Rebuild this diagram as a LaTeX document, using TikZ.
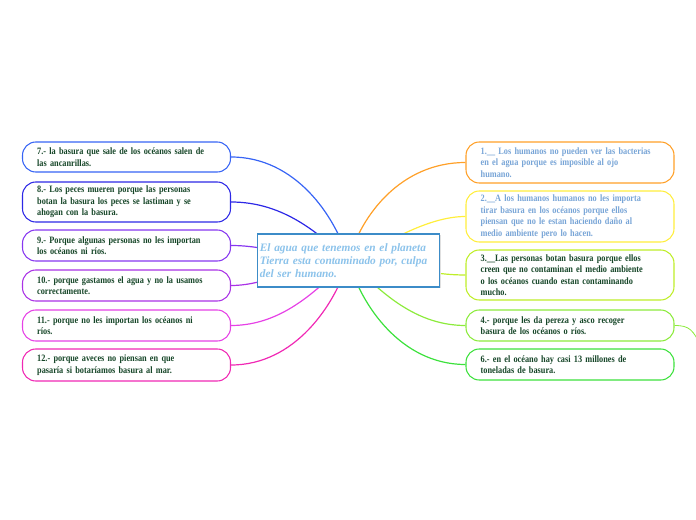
\documentclass[tikz,border=0pt]{standalone}
\usepackage{fontspec}
\setmainfont{Liberation Serif}
\newfontfamily\leaffont{Liberation Serif}[FakeStretch=0.85]
\usetikzlibrary{backgrounds,shadows}

\definecolor{cSeven}{RGB}{55,100,245}
\definecolor{cEight}{RGB}{45,40,230}
\definecolor{cNine}{RGB}{135,55,240}
\definecolor{cTen}{RGB}{170,50,230}
\definecolor{cEleven}{RGB}{230,65,230}
\definecolor{cTwelve}{RGB}{240,40,180}
\definecolor{cOne}{RGB}{255,160,40}
\definecolor{cTwo}{RGB}{255,238,60}
\definecolor{cThree}{RGB}{190,238,40}
\definecolor{cFour}{RGB}{140,235,60}
\definecolor{cSix}{RGB}{60,225,60}
\definecolor{hubline}{RGB}{60,140,200}
\definecolor{hubtext}{RGB}{140,195,235}
\definecolor{leaftext}{RGB}{22,70,40}
\definecolor{paletext}{RGB}{120,165,215}

\begin{document}
\begin{tikzpicture}[x=0.75pt,y=0.75pt,yscale=-1,xscale=1,
  leafbox/.style={draw=#1, line width=0.8pt, rounded corners=10pt, fill=white,
    text width=134pt, inner xsep=11pt, inner ysep=2pt, align=left,
    font=\leaffont\fontsize{7.3}{8.6}\selectfont\bfseries, text=leaftext},
  hubbox/.style={draw=hubline, line width=0.8pt, fill=white,
    general shadow={shadow xshift=0.8pt, shadow yshift=-0.8pt, fill=black!12},
    text width=133pt, inner xsep=2pt, align=left, minimum height=39.75pt,
    font=\fontsize{8.5}{9.8}\selectfont\bfseries\itshape, text=hubtext},
  link/.style={draw=#1, line width=0.9pt}]
\useasboundingbox (0,0) rectangle (696,520);

% central topic
\node [hubbox] (hub) at (348.5,260.5) {El agua que tenemos en el planeta\\Tierra esta contaminado por, culpa\\del ser humano.};

% left branches
\node [leafbox=cSeven, minimum height=22.5pt] (b7) at (126.5,157) {7.- la basura que sale de los océanos salen de\\las ancanrillas.};
\node [leafbox=cEight, minimum height=30pt] (b8) at (126.5,202) {8.- Los peces mueren porque las personas\\botan la basura los peces se lastiman y se\\ahogan con la basura.};
\node [leafbox=cNine, minimum height=23.25pt] (b9) at (126.5,245.5) {9.- Porque algunas personas no les importan\\los océanos ni ríos.};
\node [leafbox=cTen, minimum height=23.25pt] (b10) at (126.5,285.5) {10.- porque gastamos el agua y no la usamos\\correctamente.};
\node [leafbox=cEleven, minimum height=23.25pt] (b11) at (126.5,325.5) {11.- porque no les importan los océanos ni\\ríos.};
\node [leafbox=cTwelve, minimum height=24pt] (b12) at (126.5,365) {12.- porque aveces no piensan en que\\pasaría si botaríamos basura al mar.};

% right branches
\node [leafbox=cOne, minimum height=30.75pt, text=paletext] (b1) at (570,162.5) {1.\_\_ Los humanos no pueden ver las bacterias\\en el agua porque es imposible al ojo\\humano.};
\node [leafbox=cTwo, minimum height=38.25pt, text=paletext] (b2) at (570,216.5) {2.\_\_A los humanos humanos no les importa\\tirar basura en los océanos porque ellos\\piensan que no le estan haciendo daño al\\medio ambiente pero lo hacen.};
\node [leafbox=cThree, minimum height=37.5pt] (b3) at (570,275) {3.\_\_Las personas botan basura porque ellos\\creen que no contaminan el medio ambiente\\o los océanos cuando estan contaminando\\mucho.};
\node [leafbox=cFour, minimum height=23.25pt] (b4) at (570,325.5) {4.- porque les da pereza y asco recoger\\basura de los océanos o ríos.};
\node [leafbox=cSix, minimum height=23.25pt] (b6) at (570,364.5) {6.- en el océano hay casi 13 millones de\\toneladas de basura.};

\coordinate (off4) at (702,348);

% connectors
\begin{scope}[on background layer]
\draw [link=cSeven] (b7.east) .. controls (295,157) and (335,215) .. (hub.center);
\draw [link=cEight] (b8.east) .. controls (285,202) and (320,235) .. (hub.center);
\draw [link=cNine] (b9.east) .. controls (270,245.5) and (300,260) .. (hub.center);
\draw [link=cTen] (b10.east) .. controls (270,285.5) and (300,262) .. (hub.center);
\draw [link=cEleven] (b11.east) .. controls (285,325.5) and (320,286) .. (hub.center);
\draw [link=cTwelve] (b12.east) .. controls (295,365) and (335,305) .. (hub.center);
\draw [link=cOne] (b1.west) .. controls (401,162.5) and (361,215) .. (hub.center);
\draw [link=cTwo] (b2.west) .. controls (420,216.5) and (370,255) .. (hub.center);
\draw [link=cThree] (b3.west) .. controls (420,275) and (390,260) .. (hub.center);
\draw [link=cFour] (b4.west) .. controls (411,325.5) and (376,286) .. (hub.center);
\draw [link=cSix] (b6.west) .. controls (401,364.5) and (361,305) .. (hub.center);
\end{scope}
\draw [link=cFour, line width=0.6pt] (b4.east) .. controls (690,325.5) and (693,330) .. (off4);
\end{tikzpicture}
\end{document}
